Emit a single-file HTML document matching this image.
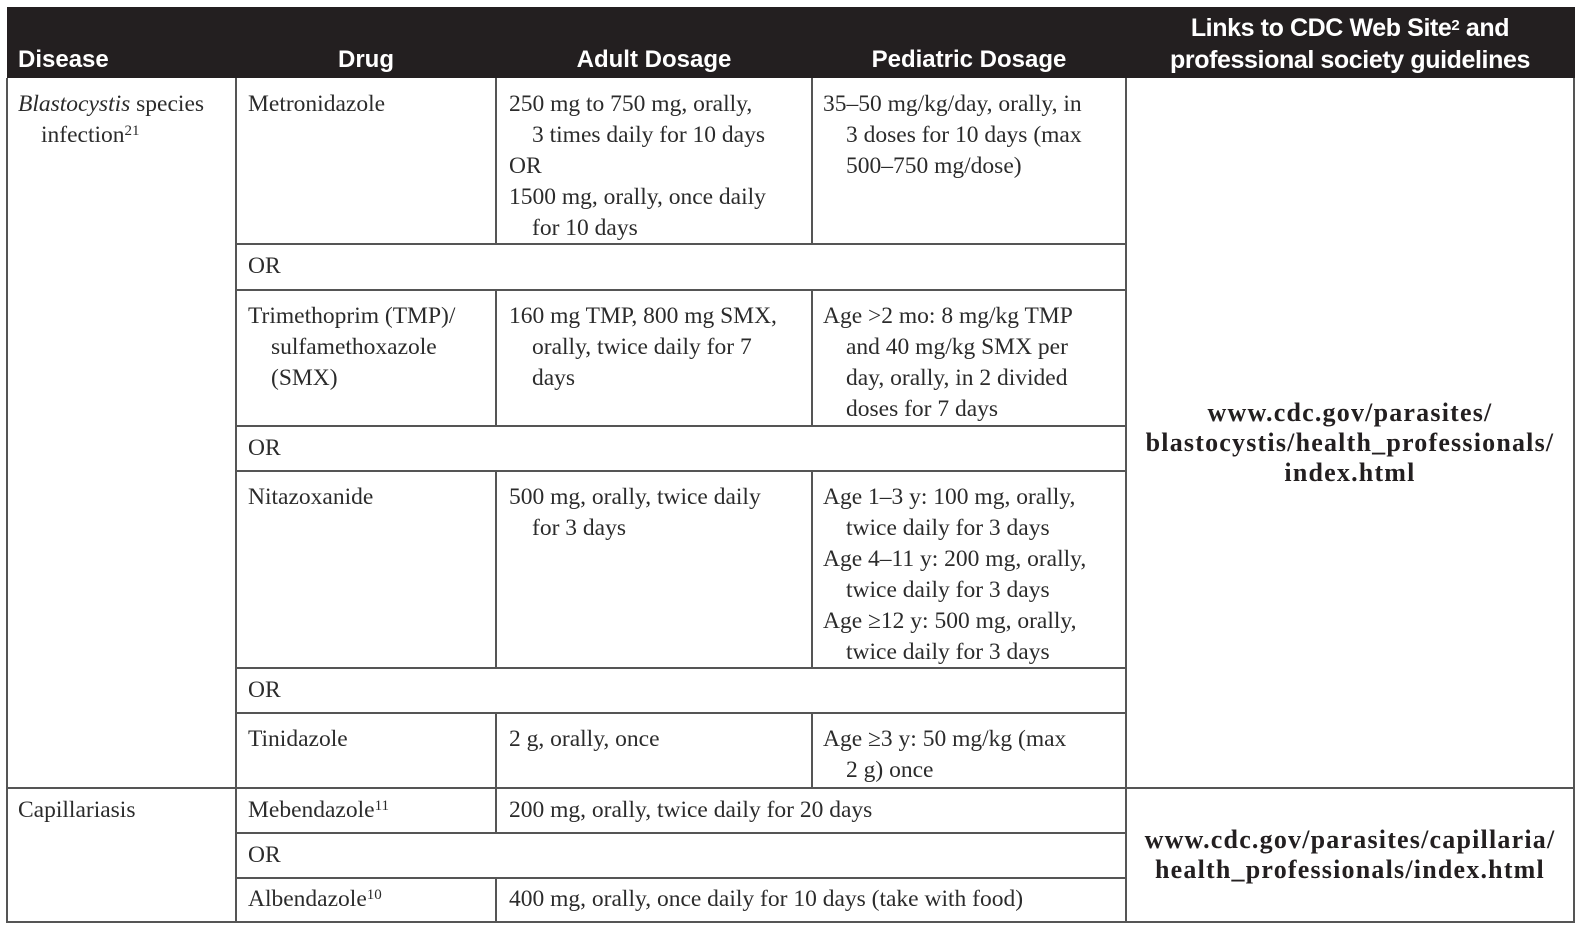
<!DOCTYPE html>
<html><head><meta charset="utf-8"><style>
html,body{margin:0;padding:0;background:#fff;}
body{width:1575px;height:925px;position:relative;overflow:hidden;font-family:"Liberation Serif",serif;color:#2b2b2b;}
.hdr{position:absolute;left:7px;top:7px;width:1568px;height:71px;background:#231f20;}
.ht{position:absolute;color:#fff;font-family:"Liberation Sans",sans-serif;font-weight:bold;font-size:24px;line-height:32px;white-space:nowrap;}
.hl{position:absolute;background:#555;height:2px;}
.vl{position:absolute;background:#555;width:2px;}
.c{position:absolute;font-size:23.5px;line-height:31px;white-space:nowrap;}
.c .h{padding-left:23px;}
.or{position:absolute;font-size:23.5px;line-height:31px;}
sup{font-size:15px;vertical-align:top;position:relative;top:-4px;}
.ht sup{font-size:15px;top:-2px;}
.url{position:absolute;font-weight:bold;font-size:26px;line-height:30px;letter-spacing:1.2px;text-align:center;white-space:nowrap;color:#231f20;}
</style></head><body>
<div class="hdr"></div>
<div class="ht" style="left:18px;top:44px">Disease</div>
<div class="ht" style="left:236px;width:260px;text-align:center;top:44px">Drug</div>
<div class="ht" style="left:496px;width:316px;text-align:center;top:44px">Adult Dosage</div>
<div class="ht" style="left:812px;width:314px;text-align:center;top:44px">Pediatric Dosage</div>
<div class="ht" style="left:1126px;width:448px;text-align:center;top:12px;font-size:25px;letter-spacing:-0.4px">Links to CDC Web Site<sup>2</sup> and<br>professional society guidelines</div>

<div class="hl" style="left:236px;width:890px;top:243px"></div>
<div class="hl" style="left:236px;width:890px;top:289px"></div>
<div class="hl" style="left:236px;width:890px;top:425px"></div>
<div class="hl" style="left:236px;width:890px;top:470px"></div>
<div class="hl" style="left:236px;width:890px;top:667px"></div>
<div class="hl" style="left:236px;width:890px;top:712px"></div>
<div class="hl" style="left:7px;width:1568px;top:787px"></div>
<div class="hl" style="left:236px;width:890px;top:832px"></div>
<div class="hl" style="left:236px;width:890px;top:877px"></div>
<div class="hl" style="left:7px;width:1568px;top:921px"></div>
<div class="vl" style="left:6px;top:78px;height:845px"></div>
<div class="vl" style="left:235px;top:78px;height:845px"></div>
<div class="vl" style="left:1125px;top:78px;height:845px"></div>
<div class="vl" style="left:1573px;top:78px;height:845px"></div>
<div class="vl" style="left:495px;top:78px;height:166px"></div>
<div class="vl" style="left:495px;top:290px;height:136px"></div>
<div class="vl" style="left:495px;top:471px;height:197px"></div>
<div class="vl" style="left:495px;top:713px;height:120px"></div>
<div class="vl" style="left:495px;top:878px;height:44px"></div>
<div class="vl" style="left:811px;top:78px;height:166px"></div>
<div class="vl" style="left:811px;top:290px;height:136px"></div>
<div class="vl" style="left:811px;top:471px;height:197px"></div>
<div class="vl" style="left:811px;top:713px;height:75px"></div>

<div class="c" style="left:18px;top:89px"><div><i>Blastocystis</i> species</div><div class="h">infection<sup>21</sup></div></div>
<div class="c" style="left:248px;top:89px">Metronidazole</div>
<div class="c" style="left:509px;top:89px"><div>250 mg to 750 mg, orally,</div><div class="h">3 times daily for 10 days</div><div>OR</div><div>1500 mg, orally, once daily</div><div class="h">for 10 days</div></div>
<div class="c" style="left:823px;top:89px"><div>35–50 mg/kg/day, orally, in</div><div class="h">3 doses for 10 days (max</div><div class="h">500–750 mg/dose)</div></div>
<div class="or" style="left:248px;top:251px">OR</div>

<div class="c" style="left:248px;top:301px"><div>Trimethoprim (TMP)/</div><div class="h">sulfamethoxazole</div><div class="h">(SMX)</div></div>
<div class="c" style="left:509px;top:301px"><div>160 mg TMP, 800 mg SMX,</div><div class="h">orally, twice daily for 7</div><div class="h">days</div></div>
<div class="c" style="left:823px;top:301px"><div>Age &gt;2 mo: 8 mg/kg TMP</div><div class="h">and 40 mg/kg SMX per</div><div class="h">day, orally, in 2 divided</div><div class="h">doses for 7 days</div></div>
<div class="or" style="left:248px;top:433px">OR</div>

<div class="c" style="left:248px;top:482px">Nitazoxanide</div>
<div class="c" style="left:509px;top:482px"><div>500 mg, orally, twice daily</div><div class="h">for 3 days</div></div>
<div class="c" style="left:823px;top:482px"><div>Age 1–3 y: 100 mg, orally,</div><div class="h">twice daily for 3 days</div><div>Age 4–11 y: 200 mg, orally,</div><div class="h">twice daily for 3 days</div><div>Age ≥12 y: 500 mg, orally,</div><div class="h">twice daily for 3 days</div></div>
<div class="or" style="left:248px;top:675px">OR</div>

<div class="c" style="left:248px;top:724px">Tinidazole</div>
<div class="c" style="left:509px;top:724px">2 g, orally, once</div>
<div class="c" style="left:823px;top:724px"><div>Age ≥3 y: 50 mg/kg (max</div><div class="h">2 g) once</div></div>

<div class="url" style="left:1126px;width:448px;top:398px">www.cdc.gov/parasites/<br>blastocystis/health_professionals/<br>index.html</div>

<div class="c" style="left:18px;top:795px">Capillariasis</div>
<div class="c" style="left:248px;top:795px">Mebendazole<sup>11</sup></div>
<div class="c" style="left:509px;top:795px">200 mg, orally, twice daily for 20 days</div>
<div class="or" style="left:248px;top:840px">OR</div>
<div class="c" style="left:248px;top:884px">Albendazole<sup>10</sup></div>
<div class="c" style="left:509px;top:884px">400 mg, orally, once daily for 10 days (take with food)</div>
<div class="url" style="left:1126px;width:448px;top:825px">www.cdc.gov/parasites/capillaria/<br>health_professionals/index.html</div>
</body></html>
